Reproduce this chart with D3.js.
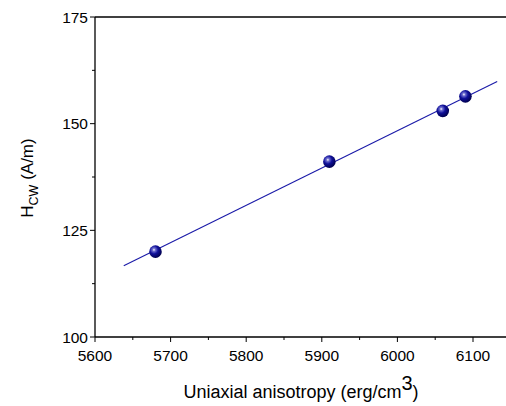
<!DOCTYPE html>
<html><head><meta charset="utf-8">
<script src="https://cdn.jsdelivr.net/npm/d3@7"></script>
<style>body{margin:0;background:#fff}svg{display:block}</style>
</head><body>
<svg id="c" width="506" height="406"></svg>
<script>
const xValues = [5680, 5910, 6060, 6090];
const yValues = [120.0, 141.1, 153.0, 156.4];
const fitX = [5638, 6132];
const fitY = [116.7, 159.9];
const xTicks = [5600, 5700, 5800, 5900, 6000, 6100];
const yTicks = [100, 125, 150, 175];

const svg = d3.select("#c");
const x = d3.scaleLinear().domain([5600, 6150]).range([95, 510.8]);
const y = d3.scaleLinear().domain([100, 175]).range([337, 17]);
const font = "Liberation Sans, Arial, sans-serif";

const defs = svg.append("defs");
const g = defs.append("radialGradient").attr("id","ball").attr("cx","0.38").attr("cy","0.35").attr("r","0.65");
g.append("stop").attr("offset","0").attr("stop-color","#ffffff");
g.append("stop").attr("offset","0.18").attr("stop-color","#7070d0");
g.append("stop").attr("offset","0.5").attr("stop-color","#10109a");
g.append("stop").attr("offset","1").attr("stop-color","#000050");

// top frame line
svg.append("line").attr("x1", x(5600)).attr("x2", 506).attr("y1", y(175)).attr("y2", y(175))
  .attr("stroke","#000").attr("stroke-width",1.3);

// x axis
const xMinor = d3.range(5650, 6150, 100);
const xa = svg.append("g").attr("transform",`translate(0,${y(100)})`);
xa.append("line").attr("x1", x(5600)).attr("x2", 506).attr("stroke","#000").attr("stroke-width",1.3);
xa.selectAll(".mj").data(xTicks).join("line").attr("x1",d=>x(d)).attr("x2",d=>x(d)).attr("y1",0).attr("y2",5).attr("stroke","#000");
xa.selectAll(".mn").data(xMinor).join("line").attr("class","mn").attr("x1",d=>x(d)).attr("x2",d=>x(d)).attr("y1",0).attr("y2",3).attr("stroke","#000");
xa.selectAll("text").data(xTicks).join("text").attr("x",d=>x(d)).attr("y",23.5).attr("text-anchor","middle")
  .attr("font-family",font).attr("font-size",15.5).text(d=>d);

// y axis
const yMinor = [112.5, 137.5, 162.5];
const ya = svg.append("g").attr("transform",`translate(${x(5600)},0)`);
ya.append("line").attr("y1", y(100)).attr("y2", y(175)).attr("stroke","#000").attr("stroke-width",1.3);
ya.selectAll(".mj").data(yTicks).join("line").attr("y1",d=>y(d)).attr("y2",d=>y(d)).attr("x1",0).attr("x2",-5).attr("stroke","#000");
ya.selectAll(".mn").data(yMinor).join("line").attr("class","mn").attr("y1",d=>y(d)).attr("y2",d=>y(d)).attr("x1",0).attr("x2",-3).attr("stroke","#000");
ya.selectAll("text").data(yTicks).join("text").attr("x",-7).attr("y",d=>y(d)+5.5).attr("text-anchor","end")
  .attr("font-family",font).attr("font-size",15.5).text(d=>d);

// fit line
svg.append("path").datum(fitX.map((d,i)=>[d, fitY[i]]))
  .attr("d", d3.line().x(d=>x(d[0])).y(d=>y(d[1])))
  .attr("stroke","#1a1aa8").attr("stroke-width",1.1).attr("fill","none");

// points
svg.selectAll(".pt").data(xValues.map((d,i)=>[d,yValues[i]])).join("circle")
  .attr("cx",d=>x(d[0])).attr("cy",d=>y(d[1])).attr("r",6.3).attr("fill","url(#ball)");

// axis labels
const xl = svg.append("text").attr("x", 301).attr("y", 398).attr("text-anchor","middle")
  .attr("font-family",font).attr("font-size",18);
xl.append("tspan").text("Uniaxial anisotropy (erg/cm");
xl.append("tspan").attr("dy",-8).attr("font-size",20).text("3");
xl.append("tspan").attr("dy",8).text(")");

const yl = svg.append("text").attr("transform","translate(33,178) rotate(-90)").attr("text-anchor","middle")
  .attr("font-family",font).attr("font-size",17);
yl.append("tspan").text("H");
yl.append("tspan").attr("dy",5).attr("font-size",12.5).text("CW");
yl.append("tspan").attr("dy",-5).text(" (A/m)");
</script>
</body></html>
